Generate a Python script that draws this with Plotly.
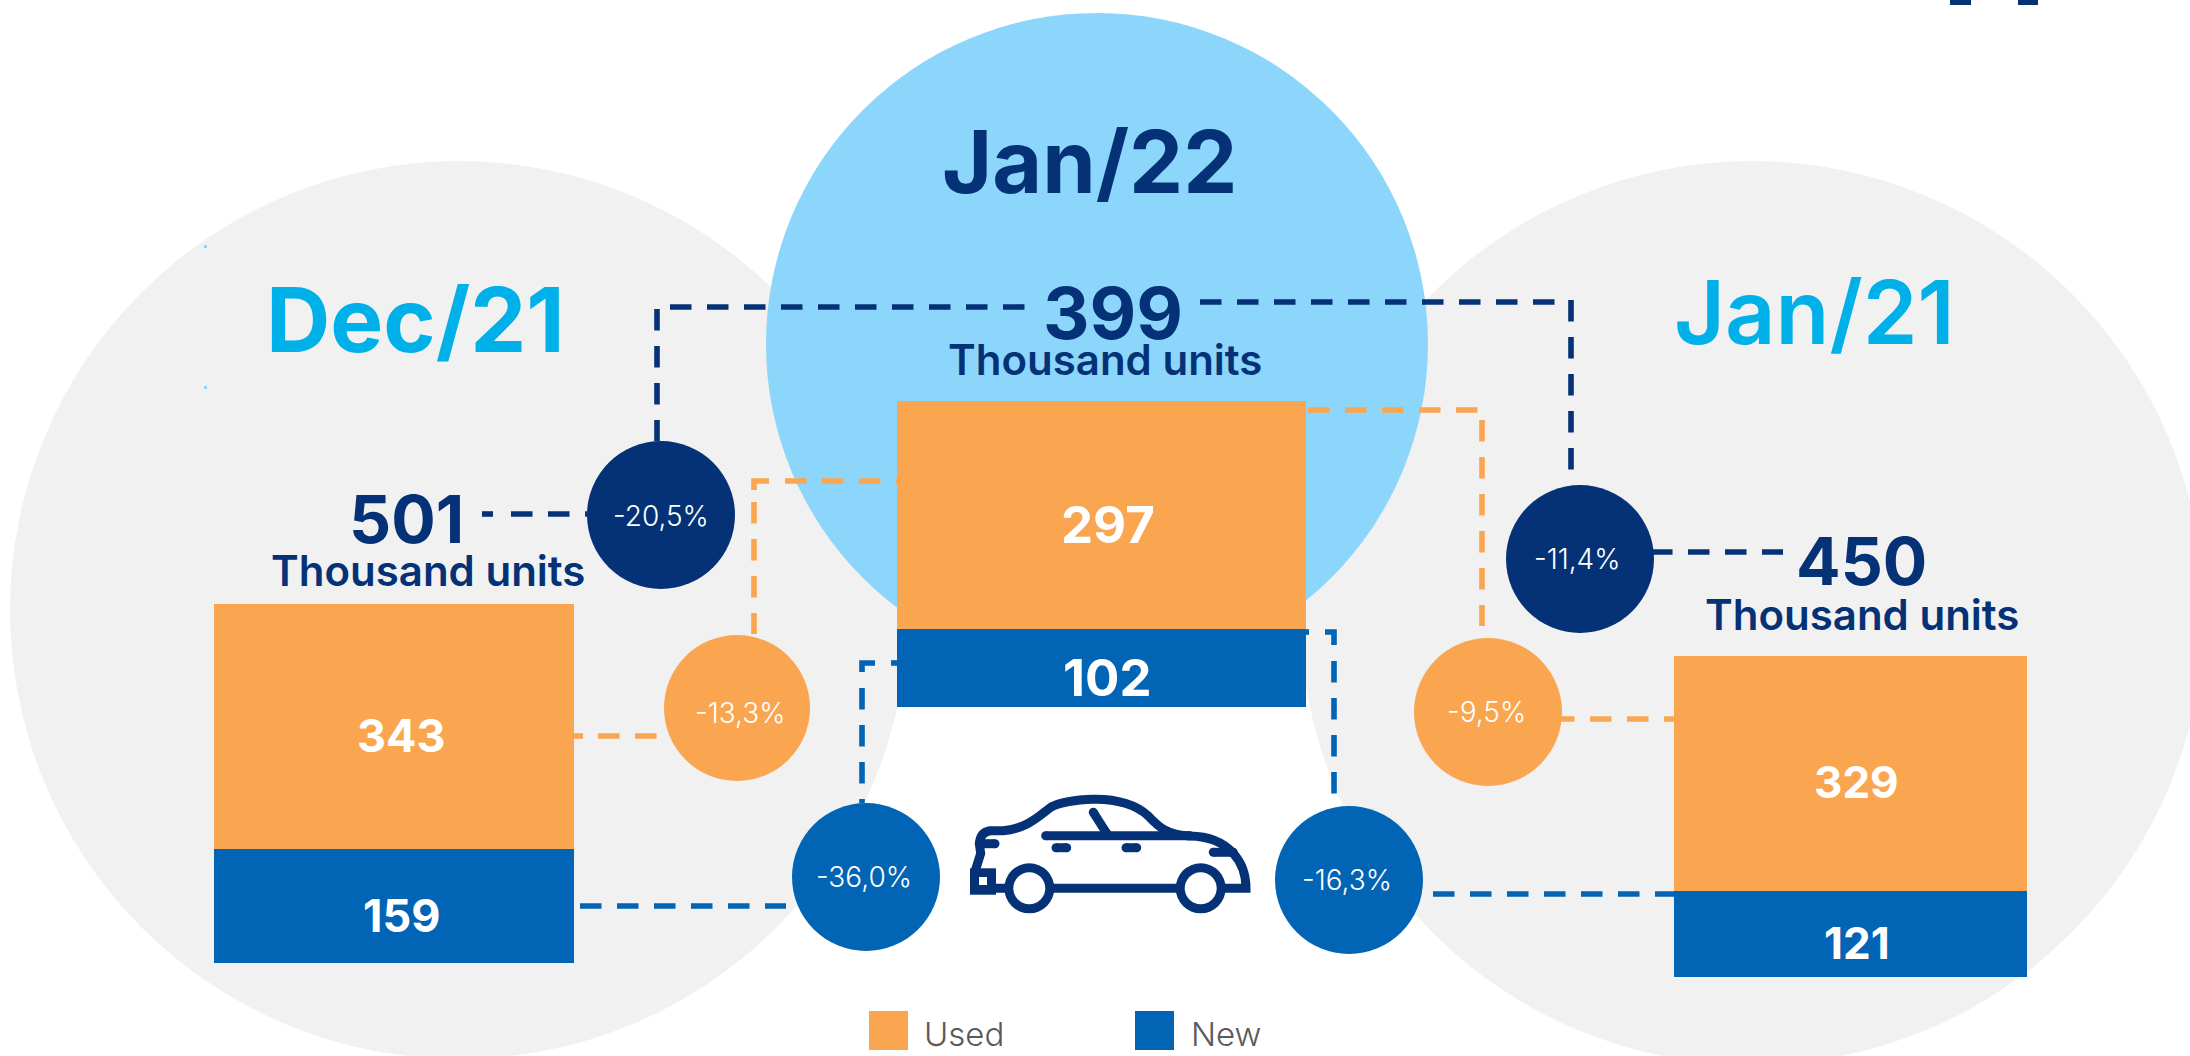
import plotly.graph_objects as go

W, H = 2190, 1056
periods = ["Dec/21", "Jan/22", "Jan/21"]
used = [343, 297, 329]
new = [159, 102, 121]
totals = [501, 399, 450]
total_change = ["-20,5%", "-11,4%"]
used_change = ["-13,3%", "-9,5%"]
new_change = ["-36,0%", "-16,3%"]
unit_label = "Thousand units"
legend_labels = ["Used", "New"]

ORANGE, BLUE, NAVY = "#FAA54F", "#0264B4", "#053276"
SKY, GREY, CYAN = "#8DD6FB", "#F1F1F1", "#00B0E8"
FONT = "Inter"

# pixel boxes of the three stacked bars: left, right, top, bottom
bar_boxes = [(214, 574, 604, 963), (897, 1306, 401, 707), (1674, 2027, 656, 977)]
label_shift = [(7, -9), (6, -10), (6, -9)]
label_size = [45, 51, 44]

shapes, annos = [], []


def disc(cx, cy, r, color):
    shapes.append(dict(type="circle", xref="x", yref="y", layer="below",
                       x0=cx - r, x1=cx + r, y0=cy - r, y1=cy + r,
                       fillcolor=color, line_width=0))


def rect(x0, y0, x1, y1, color):
    shapes.append(dict(type="rect", xref="x", yref="y", layer="below",
                       x0=x0, x1=x1, y0=y0, y1=y1, fillcolor=color, line_width=0))


def seg(x0, y0, x1, y1, color, dashed=True, w=5.6):
    line = dict(color=color, width=w)
    if dashed:
        line["dash"] = "21.5px,15.5px"
    shapes.append(dict(type="line", xref="x", yref="y", layer="below",
                       x0=x0, x1=x1, y0=y0, y1=y1, line=line))


def poly(points, color, w=5.6):
    d = "M" + " L".join(f"{x},{y}" for x, y in points)
    shapes.append(dict(type="path", xref="x", yref="y", layer="below", path=d,
                       line=dict(color=color, width=w)))


def txt(x, y, text, size, color, weight=600):
    annos.append(dict(x=x, y=y, xref="x", yref="y", text=text, showarrow=False,
                      xanchor="center", yanchor="middle",
                      font=dict(family=FONT, size=size, color=color, weight=weight)))


# big background discs
disc(1752, 613, 452, GREY)
disc(459, 610, 449, GREY)
disc(1097, 344, 331, SKY)

# specks and the cropped logo stubs
rect(204, 245, 207, 248, SKY)
rect(204, 386, 207, 389, SKY)
rect(1950, 0, 1971, 5, NAVY)
rect(2018, 0, 2038, 5, NAVY)

# connectors
seg(670, 307, 1025, 307, NAVY)
seg(657, 309, 657, 441, NAVY)
seg(1200, 302, 1556, 302, NAVY)
seg(1571, 300, 1571, 485, NAVY)
seg(482, 514, 493, 514, NAVY, dashed=False)
seg(511, 514, 587, 514, NAVY)
seg(1651, 552, 1783, 552, NAVY)

poly([(754, 490), (754, 481), (769, 481)], ORANGE)
seg(785, 481, 897, 481, ORANGE)
seg(754, 502, 754, 634, ORANGE)
seg(574, 736, 583, 736, ORANGE, dashed=False)
seg(598, 736, 657, 736, ORANGE)
seg(1308, 410, 1478, 410, ORANGE)
seg(1482, 420, 1482, 626, ORANGE)
seg(1553, 719, 1674, 719, ORANGE)

seg(580, 906, 786, 906, BLUE)
poly([(862, 672), (862, 663), (875, 663)], BLUE)
seg(891, 663, 897, 663, BLUE, dashed=False)
seg(862, 688, 862, 803, BLUE)
poly([(1325, 632), (1334, 632), (1334, 645)], BLUE)
seg(1306, 632, 1309, 632, BLUE, dashed=False)
seg(1334, 661, 1334, 794, BLUE)
seg(1433, 894, 1675, 894, BLUE)

# change bubbles
disc(661, 515, 74, NAVY)
disc(1580, 559, 74, NAVY)
disc(737, 708, 73, ORANGE)
disc(1488, 712, 74, ORANGE)
disc(866, 877, 74, BLUE)
disc(1349, 880, 74, BLUE)

# car icon, traced on a local grid
cx = lambda X: round(950 + X / 3, 1)
cy = lambda Y: round(780 + Y / 3, 1)
CAR = 9


def car_path(cmds):
    out = []
    for c, pts in cmds:
        out.append(c + " ".join(f"{cx(a)},{cy(b)}" for a, b in pts))
    return " ".join(out)


def car_stroke(cmds, w=CAR):
    shapes.append(dict(type="path", xref="x", yref="y", layer="below",
                       path=car_path(cmds), line=dict(color=NAVY, width=w)))


def car_pill(X0, Y0, X1, Y1):
    car_stroke([("M", [(X0, Y0)]), ("L", [(X1, Y1)])])
    r = CAR / 2
    for X, Y in ((X0, Y0), (X1, Y1)):
        disc(cx(X), cy(Y), r, NAVY)


car_stroke([("M", [(75, 275)]), ("L", [(92, 220)]), ("L", [(88, 190)]),
            ("C", [(90, 170), (100, 155), (120, 152)]), ("L", [(160, 152)]),
            ("C", [(235, 145), (270, 105), (305, 80)]),
            ("C", [(330, 68), (370, 60), (430, 58)]),
            ("C", [(500, 56), (560, 75), (595, 108)]),
            ("C", [(625, 140), (650, 165), (720, 168)]),
            ("C", [(840, 170), (888, 250), (888, 325)]),
            ("L", [(810, 325)])])
car_stroke([("M", [(130, 325)]), ("L", [(690, 325)])])
car_pill(287, 167, 720, 167)
car_pill(430, 97, 470, 160)
car_pill(318, 203, 350, 203)
car_pill(528, 203, 560, 203)
car_pill(790, 217, 850, 217)
car_pill(92, 191, 135, 191)
shapes.append(dict(type="rect", xref="x", yref="y", layer="below",
                   x0=cx(60), x1=cx(138), y0=cy(265), y1=cy(344),
                   fillcolor=NAVY, line_width=0))
rect(cx(87), cy(291), cx(111), cy(315), "white")
for X in (238, 752):
    disc(cx(X), cy(325), 25, NAVY)
    disc(cx(X), cy(325), 16, "white")

# legend
rect(869, 1011, 908, 1050, ORANGE)
rect(1135, 1011, 1174, 1050, BLUE)
txt(964, 1034, legend_labels[0], 33, "#5A5A5A", 300)
txt(1226, 1034, legend_labels[1], 33, "#5A5A5A", 300)

# headings
txt(415, 319, periods[0], 89, CYAN, 700)
txt(1089, 162, periods[1], 86, NAVY, 700)
txt(1814, 312, periods[2], 88, CYAN, 600)
txt(406, 519, str(totals[0]), 66, NAVY, 700)
txt(1113, 312, str(totals[1]), 72, NAVY, 700)
txt(1861, 561, str(totals[2]), 66, NAVY, 700)
txt(428, 570, unit_label, 42, NAVY, 600)
txt(1105, 359, unit_label, 42, NAVY, 600)
txt(1862, 614, unit_label, 42, NAVY, 600)

# bubble labels
PCT = 28
txt(661, 516, total_change[0], PCT, "white", 300)
txt(1577, 559, total_change[1], PCT, "white", 300)
txt(740, 713, used_change[0], PCT, "white", 300)
txt(1486, 712, used_change[1], PCT, "white", 300)
txt(864, 877, new_change[0], PCT, "white", 300)
txt(1347, 880, new_change[1], PCT, "white", 300)

traces = [go.Scatter(x=[None], y=[None], xaxis="x", yaxis="y", showlegend=False,
                     hoverinfo="skip")]
layout_axes = dict(
    xaxis=dict(range=[0, W], domain=[0, 1], visible=False, fixedrange=True),
    yaxis=dict(range=[H, 0], domain=[0, 1], visible=False, fixedrange=True),
)
for i, (p, u, n, box) in enumerate(zip(periods, used, new, bar_boxes)):
    k = str(i + 2)
    traces.append(go.Bar(x=[p], y=[n], name=legend_labels[1], marker=dict(color=BLUE, line_width=0),
                         xaxis="x" + k, yaxis="y" + k, showlegend=False))
    traces.append(go.Bar(x=[p], y=[u], base=[n], name=legend_labels[0], marker=dict(color=ORANGE, line_width=0),
                         xaxis="x" + k, yaxis="y" + k, showlegend=False))
    left, right, top, bottom = box
    layout_axes["xaxis" + k] = dict(domain=[left / W, right / W], range=[-0.5, 0.5], type="category",
                                    visible=False, fixedrange=True)
    layout_axes["yaxis" + k] = dict(domain=[1 - bottom / H, 1 - top / H], range=[0, u + n],
                                    visible=False, fixedrange=True)
    sx, sy = label_shift[i]
    for val, mid in ((u, n + u / 2), (n, n / 2)):
        annos.append(dict(x=p, y=mid, xref="x" + k, yref="y" + k, text=str(val), showarrow=False,
                          xshift=sx, yshift=sy, xanchor="center", yanchor="middle",
                          font=dict(family=FONT, size=label_size[i], color="white", weight=700)))

fig = go.Figure(traces)
fig.update_layout(width=W, height=H, margin=dict(l=0, r=0, t=0, b=0), autosize=False,
                  paper_bgcolor="white", plot_bgcolor="rgba(0,0,0,0)", bargap=0, barmode="overlay",
                  showlegend=False, shapes=shapes, annotations=annos, **layout_axes)
fig.write_html("out.html", config=dict(displayModeBar=False),
               post_script="document.body.style.margin='0';document.documentElement.style.overflow='hidden';")
